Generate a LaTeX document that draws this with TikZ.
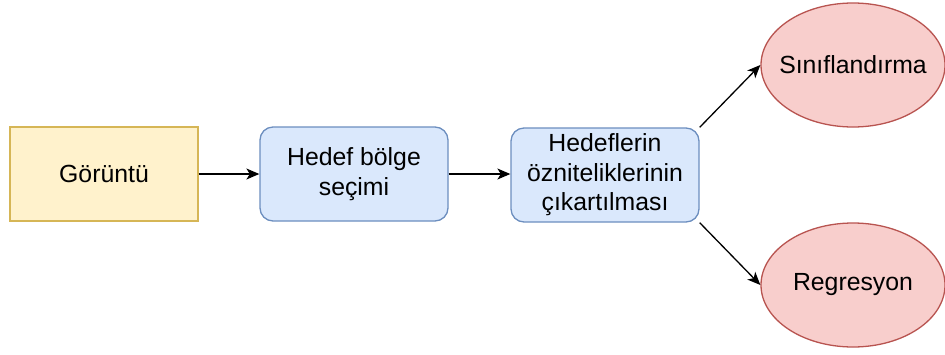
\documentclass[tikz,border=0pt]{standalone}
\usepackage{fontspec}
\setmainfont{Liberation Sans}
\usetikzlibrary{arrows.meta,shapes.geometric}
\definecolor{yfill}{HTML}{FFF2CC}
\definecolor{ydraw}{HTML}{D6B656}
\definecolor{bfill}{HTML}{DAE8FC}
\definecolor{bdraw}{HTML}{6C8EBF}
\definecolor{rfill}{HTML}{F8CECC}
\definecolor{rdraw}{HTML}{B85450}
\begin{document}
\begin{tikzpicture}[x=1pt,y=-1pt,
  every node/.style={font=\fontsize{24.8}{29.6}\selectfont, align=center, line width=1.3pt, inner sep=0pt},
  inbox/.style={draw=ydraw, fill=yfill, minimum width=188pt, minimum height=94pt},
  stagebox/.style={draw=bdraw, fill=bfill, rounded corners=13pt, minimum width=188pt, minimum height=94pt},
  outcome/.style={ellipse, draw=rdraw, fill=rfill, inner sep=-40pt, minimum width=184pt, minimum height=124pt},
  flow/.style={line width=1.3pt, -{Stealth[length=13pt,width=11pt,inset=3.5pt]}}
]
\useasboundingbox (0,0) rectangle (945,354);

\node[inbox]    (img)  at (104,174) {Görüntü};
\node[stagebox] (roi)  at (354,174) {Hedef bölge\\seçimi};
\node[stagebox] (feat) at (605,175) {Hedeflerin\\özniteliklerinin\\çıkartılması};
\node[outcome]  (cls)  at (853,65)  {Sınıflandırma};
\node[outcome]  (reg)  at (853,285) {Regresyon};

\draw[flow] (img.east) -- (roi.west);
\draw[flow] (roi.east) -- (roi.east -| feat.west);
\draw[flow] (feat.north east) -- (cls.west);
\draw[flow] (feat.south east) -- (reg.west);
\end{tikzpicture}
\end{document}
